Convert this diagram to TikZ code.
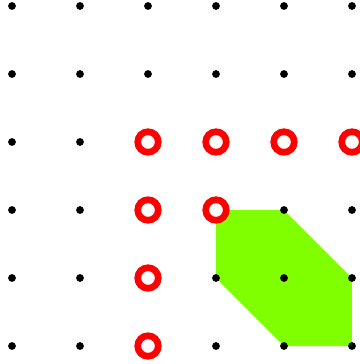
\documentclass[tikz,border=0pt]{standalone}
\usepackage{tikz}

\definecolor{lime}{RGB}{128,255,0}
\tikzset{
  gridpt/.style={fill=black},
  ringpt/.style={draw=red,fill=white,line width=2.8pt},
  region/.style={fill=lime}
}

\begin{document}
\begin{tikzpicture}
    \useasboundingbox (-0.1765,-0.2647) rectangle (5.1176,5.0882);
    % shaded region
    \path[region] (3,2) -- (4,2) -- (5,1) -- (5,0) -- (4,0) -- (3,1) -- cycle;
    % lattice points
    \foreach \i in {0,...,5}
      \foreach \j in {0,...,5}
        \path[gridpt] (\i,\j) circle (0.057);
    % marked points
    \foreach \p in {(2,3),(3,3),(4,3),(5,3),(2,2),(3,2),(2,1),(2,0)}
      \path[ringpt] \p circle (0.151);
  \end{tikzpicture}
\end{document}
